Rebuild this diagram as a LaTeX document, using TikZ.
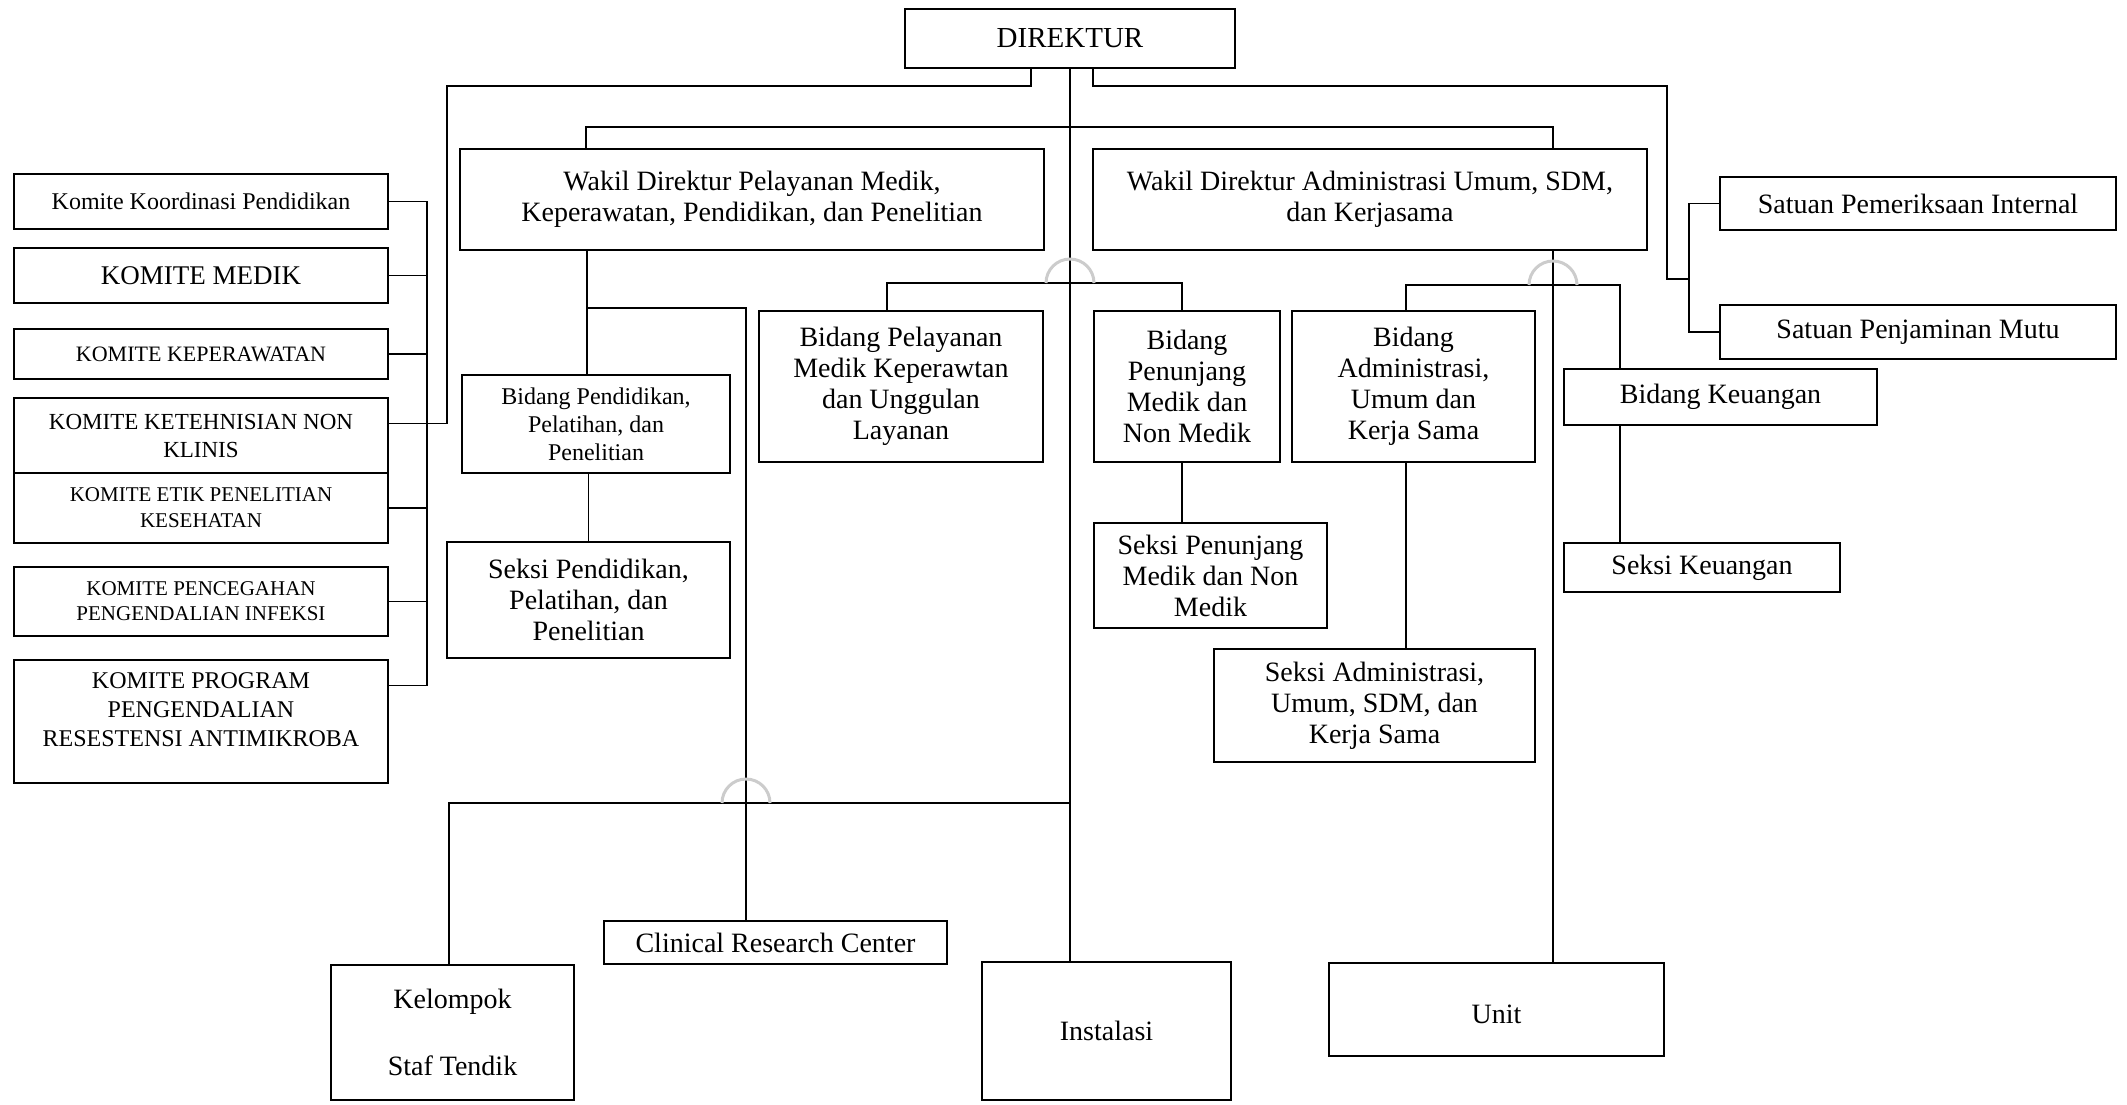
\documentclass[tikz,border=0pt]{standalone}
\usepackage{fontspec}
\setmainfont{Liberation Serif}
\usetikzlibrary{positioning}
\newcommand{\fontjabatan}{\fontsize{28pt}{31pt}\selectfont}
\newcommand{\fontkomite}{\fontsize{22pt}{28pt}\selectfont}
\newcommand{\komitewidth}{374pt}
\tikzstyle{jabatan} = [% an office or unit of the hospital
  rectangle,
  anchor=north west,
  draw=black,
  line width=2pt,
  outer sep=0pt,
  inner sep=2pt,
  align=center,
  font=\fontjabatan
  ]
\tikzstyle{komite} = [% a committee under the director
  jabatan,
  minimum width=\komitewidth,
  font=\fontkomite
  ]
\tikzstyle{garis} = [% connector line
  line width=1.6pt
  ]
\tikzstyle{lompatan} = [% line jump where two connectors cross
  draw=gray!40,
  line width=3pt
  ]

\begin{document}
\begin{tikzpicture}[x=1pt, y=-1pt]
\useasboundingbox (0,0) rectangle (2127,1104);

%%% Nodes
\node[jabatan, minimum width=330pt, minimum height=59pt, font=\fontsize{29pt}{31pt}\selectfont] (direktur) at (905,9) {DIREKTUR};
\node[jabatan, minimum width=584pt, minimum height=101pt] (wakilmedik) at (460,149) {Wakil Direktur Pelayanan Medik,\\Keperawatan, Pendidikan, dan Penelitian};
\node[jabatan, minimum width=554pt, minimum height=101pt] (wakiladm) at (1093,149) {Wakil Direktur Administrasi Umum, SDM,\\dan Kerjasama};

\node[komite, minimum height=55pt, font=\fontsize{24pt}{28pt}\selectfont] (kkp) at (14,174) {Komite Koordinasi Pendidikan};
\node[komite, minimum height=55pt, below=19pt of kkp.south west, anchor=north west, font=\fontsize{27pt}{28pt}\selectfont] (kmedik) {KOMITE MEDIK};
\node[komite, minimum height=50pt, below=26pt of kmedik.south west, anchor=north west] (kkep) {KOMITE KEPERAWATAN};
\node[komite, minimum height=75pt, below=19pt of kkep.south west, anchor=north west, font=\fontsize{23pt}{28pt}\selectfont] (kketeh) {KOMITE KETEHNISIAN NON\\KLINIS};
\node[komite, minimum height=70pt, below=0pt of kketeh.south west, anchor=north west, font=\fontsize{21pt}{26pt}\selectfont] (ketik) {KOMITE ETIK PENELITIAN\\KESEHATAN};
\node[komite, minimum height=69pt, below=24pt of ketik.south west, anchor=north west, font=\fontsize{21pt}{25pt}\selectfont] (kppi) {KOMITE PENCEGAHAN\\PENGENDALIAN INFEKSI};
\node[komite, minimum height=123pt, below=24pt of kppi.south west, anchor=north west, font=\fontsize{24pt}{29pt}\selectfont] (kppra) {KOMITE PROGRAM\\PENGENDALIAN\\RESESTENSI ANTIMIKROBA\\[-6pt]\mbox{}};

\node[jabatan, minimum width=396pt, minimum height=53pt] (spi) at (1720,177) {Satuan Pemeriksaan Internal};
\node[jabatan, minimum width=396pt, minimum height=54pt, below=75pt of spi.south west, anchor=north west] (spm) {Satuan Penjaminan Mutu};

\node[jabatan, minimum width=268pt, minimum height=98pt, font=\fontsize{24pt}{28pt}\selectfont] (bdiklat) at (462,375) {Bidang Pendidikan,\\Pelatihan, dan\\Penelitian};
\node[jabatan, minimum width=283pt, minimum height=116pt] (sdiklat) at (447,542) {Seksi Pendidikan,\\Pelatihan, dan\\Penelitian};
\node[jabatan, minimum width=284pt, minimum height=151pt] (byanmed) at (759,311) {Bidang Pelayanan\\Medik Keperawtan\\dan Unggulan\\Layanan};
\node[jabatan, minimum width=186pt, minimum height=151pt] (bpenunjang) at (1094,311) {Bidang\\Penunjang\\Medik dan\\Non Medik};
\node[jabatan, minimum width=233pt, minimum height=105pt, below=61pt of bpenunjang.south west, anchor=north west] (spenunjang) {Seksi Penunjang\\Medik dan Non\\Medik};
\node[jabatan, minimum width=243pt, minimum height=151pt] (badm) at (1292,311) {Bidang\\Administrasi,\\Umum dan\\Kerja Sama};
\node[jabatan, minimum width=321pt, minimum height=113pt] (sadm) at (1214,649) {Seksi Administrasi,\\Umum, SDM, dan\\Kerja Sama};
\node[jabatan, minimum width=313pt, minimum height=56pt] (bkeu) at (1564,369) {Bidang Keuangan};
\node[jabatan, minimum width=276pt, minimum height=49pt, below=118pt of bkeu.south west, anchor=north west] (skeu) {Seksi Keuangan};

\node[jabatan, minimum width=343pt, minimum height=43pt] (crc) at (604,921) {Clinical Research Center};
\node[jabatan, minimum width=243pt, minimum height=135pt] (kelompok) at (331,965) {Kelompok\\[36pt]Staf Tendik};
\node[jabatan, minimum width=249pt, minimum height=138pt] (instalasi) at (982,962) {Instalasi};
\node[jabatan, minimum width=335pt, minimum height=93pt] (unit) at (1329,963) {\raisebox{-28pt}{Unit}};

%%% Connectors
% direktur to the committees
\draw[garis] ([xshift=126pt]direktur.south west) -- ++(0,18) -| ([xshift=59pt, yshift=12pt]kketeh.east) -- ([yshift=12pt]kketeh.east);
\draw[garis] (kkp.east) -- ++(39,0) |- ([yshift=36pt]kppra.east);
\foreach \k in {kmedik, kkep, ketik, kppi}
  \draw[garis] (\k.east) -- ++(39,0);

% main line
\draw[garis] (direktur.south) -- (direktur.south |- instalasi.north);

% direktur to the satuan
\coordinate (satuanbus) at (1689,279);
\draw[garis] ([xshift=188pt]direktur.south west) -- ++(0,18) -| ([xshift=-22pt]satuanbus) -- (satuanbus);
\draw[garis] (spi.west) -- ++(-31,0) |- (spm.west);

% wakil direktur
\draw[garis] ([xshift=126pt]wakilmedik.north west) -- ++(0,-22) -| ([xshift=-94pt]wakiladm.north east);
\draw[garis] ([xshift=127pt]wakilmedik.south west) coordinate (wm) -- (wm |- bdiklat.north);
\draw[garis] (wm |- 0,308) -| ([xshift=142pt]crc.north west) coordinate (crctop);
\draw[garis] (sdiklat.north) -- (sdiklat.north |- bdiklat.south);

\draw[garis] ([xshift=128pt]byanmed.north west) -- ++(0,-28) -| ([xshift=88pt]bpenunjang.north west);
\draw[garis] ([xshift=88pt]bpenunjang.south west) coordinate (bp) -- (bp |- spenunjang.north);

\draw[garis] ([xshift=-94pt]wakiladm.south east) coordinate (wa) -- (wa |- unit.north);
\draw[garis] ([xshift=114pt]badm.north west) -- ++(0,-26) -| ([xshift=56pt]bkeu.north west);
\draw[garis] ([xshift=114pt]badm.south west) coordinate (ba) -- (ba |- sadm.north);
\draw[garis] ([xshift=56pt]bkeu.south west) coordinate (bk) -- (bk |- skeu.north);

% bottom row
\draw[garis] ([xshift=118pt]kelompok.north west) |- (direktur.south |- 0,803);

% line jumps
\coordinate (lompat1) at (direktur.south |- 0,283);
\coordinate (lompat2) at (wa |- 0,285);
\coordinate (lompat3) at (crctop |- 0,803);
\foreach \j in {lompat1, lompat2, lompat3}
  \draw[lompatan] ([xshift=-24pt]\j) arc[start angle=180, end angle=0, radius=24pt];

\end{tikzpicture}
\end{document}
